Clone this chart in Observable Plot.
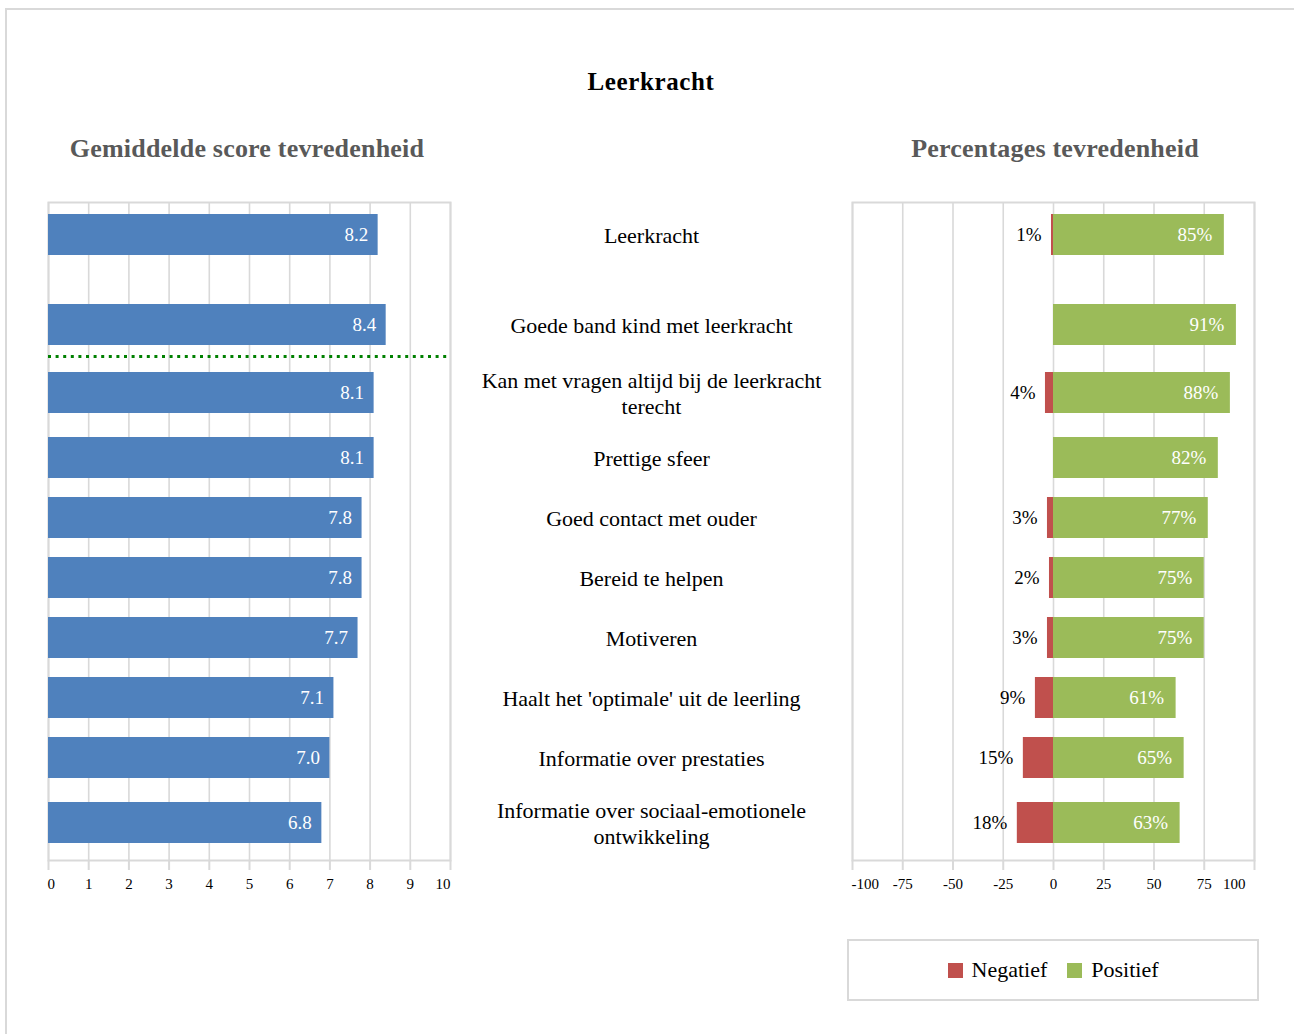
<!DOCTYPE html>
<html>
<head>
<meta charset="utf-8">
<script src="https://cdn.jsdelivr.net/npm/d3@7"></script>
<script src="https://cdn.jsdelivr.net/npm/@observablehq/plot@0.6"></script>
<style>
  html, body { margin: 0; padding: 0; background: #fff; }
  #page { position: relative; width: 1294px; height: 1034px; overflow: hidden; background: #fff;
          font-family: 'Liberation Serif', 'Times New Roman', serif; }
  .abs { position: absolute; }
  #outer { left: 5px; top: 8px; width: 1310px; height: 1050px; border: 2px solid #d9d9d9; box-sizing: border-box; }
  #title { left: 451px; width: 400px; top: 69px; text-align: center; font-size: 25px; font-weight: bold;
           line-height: 1; letter-spacing: 0.6px; color: #000; }
  .sub { width: 500px; top: 136px; text-align: center; font-size: 26px; font-weight: bold; line-height: 1;
         letter-spacing: 0.2px; color: #595959; }
  #legend { left: 847px; top: 939px; width: 412px; height: 62px; border: 2px solid #d9d9d9; box-sizing: border-box;
            display: flex; align-items: center; justify-content: center; font-size: 22px; color: #000; }
  .sw { display: inline-block; width: 15px; height: 15px; margin-right: 9px; }
  .item { display: flex; align-items: center; margin: 0 10px; }
</style>
</head>
<body>
<div id="page">
  <div id="outer" class="abs"></div>
  <div id="title" class="abs">Leerkracht</div>
  <div id="subL" class="abs sub" style="left:-3px">Gemiddelde score tevredenheid</div>
  <div id="subR" class="abs sub" style="left:805px">Percentages tevredenheid</div>
  <div id="left" class="abs" style="left:0px; top:180px;"></div>
  <div id="mid" class="abs" style="left:450px; top:180px;"></div>
  <div id="right" class="abs" style="left:804px; top:180px;"></div>
  <div id="legend" class="abs"></div>
</div>
<script>
// ---------- DATA ----------
const labels = [
  "Leerkracht",
  "Goede band kind met leerkracht",
  "Kan met vragen altijd bij de leerkracht\nterecht",
  "Prettige sfeer",
  "Goed contact met ouder",
  "Bereid te helpen",
  "Motiveren",
  "Haalt het 'optimale' uit de leerling",
  "Informatie over prestaties",
  "Informatie over sociaal-emotionele\nontwikkeling"
];
const scores    = [8.2, 8.4, 8.1, 8.1, 7.8, 7.8, 7.7, 7.1, 7.0, 6.8];
const negatief  = [1, 0, 4, 0, 3, 2, 3, 9, 15, 18];
const positief  = [85, 91, 88, 82, 77, 75, 75, 61, 65, 63];
const scoreTicks = [0, 1, 2, 3, 4, 5, 6, 7, 8, 9, 10];
const pctTicks   = [-100, -75, -50, -25, 0, 25, 50, 75, 100];
const legendItems = ["Negatief", "Positief"];

// ---------- STYLE / LAYOUT ----------
const FONT = "'Liberation Serif', 'Times New Roman', serif";
const BLUE = "#4F81BD", RED = "#C0504D", GREEN = "#9BBB59", GRID = "#d9d9d9";
const PLOT_H = 658, MT = 22, MB = 40, H = MT + PLOT_H + MB;
const ROW_H = 60, LINE_EXTRA = 10, GROUP_GAP = 30, SEP_GAP = 3, TOP_PAD = 32.5, HALF_BAR = 20.5;

// row centres derived from label line counts (layout rule, not data)
const rowH = labels.map(l => ROW_H + LINE_EXTRA * (l.split("\n").length - 1));
const centers = [];
let acc = TOP_PAD;
labels.forEach((_, i) => {
  if (i > 0) acc += (rowH[i - 1] + rowH[i]) / 2 + (i === 1 ? GROUP_GAP : 0) + (i === 2 ? SEP_GAP : 0);
  centers.push(acc);
});
const sepY = centers[1] + rowH[1] / 2 + SEP_GAP / 2;

const rows = labels.map((label, i) => ({
  label, score: scores[i], neg: negatief[i], pos: positief[i], c: centers[i]
}));

const yScale = {domain: [0, PLOT_H], range: [MT, MT + PLOT_H], axis: null};
const svgStyle = {fontFamily: FONT, fontSize: "15px", color: "#000", background: "transparent", overflow: "visible"};

function axes(ticks, lastDx) {
  const first = ticks[0], last = ticks[ticks.length - 1];
  const fmt = d => String(d);
  return [
    Plot.gridX({ticks, stroke: GRID, strokeOpacity: 1, strokeWidth: 1.6}),
    Plot.frame({stroke: GRID, strokeWidth: 2}),
    Plot.axisX({ticks, tickSize: 10, stroke: GRID, strokeOpacity: 1, strokeWidth: 2, tickFormat: () => "", label: null}),
    Plot.axisX({ticks: [first], tickSize: 0, tickPadding: 18, tickFormat: fmt, textAnchor: "start", dx: -1, label: null, fontSize: 15}),
    Plot.axisX({ticks: ticks.slice(1, -1), tickSize: 0, tickPadding: 18, tickFormat: fmt, label: null, fontSize: 15}),
    Plot.axisX({ticks: [last], tickSize: 0, tickPadding: 18, tickFormat: fmt, textAnchor: "end", dx: lastDx, label: null, fontSize: 15})
  ];
}

// ---------- LEFT: average score ----------
const left = Plot.plot({
  width: 470, height: H,
  marginLeft: 48, marginRight: 20, marginTop: MT, marginBottom: MB,
  style: svgStyle,
  x: {domain: [0, 10], axis: null},
  y: yScale,
  marks: [
    ...axes(scoreTicks, 0),
    Plot.rect(rows, {x1: 0, x2: "score", y1: d => d.c - HALF_BAR, y2: d => d.c + HALF_BAR, fill: BLUE}),
    Plot.text(rows, {x: "score", y: "c", text: d => d.score.toFixed(1), textAnchor: "end", dx: -10,
                     fill: "white", fontSize: 19, fontFamily: FONT}),
    Plot.ruleY([sepY], {stroke: "#008000", strokeWidth: 3, strokeDasharray: "3,4.6"})
  ]
});
document.getElementById("left").appendChild(left);

// ---------- MIDDLE: labels ----------
const mid = Plot.plot({
  width: 402, height: H,
  marginLeft: 0, marginRight: 0, marginTop: MT, marginBottom: MB,
  style: svgStyle,
  y: yScale,
  marks: [
    Plot.text(rows, {y: "c", text: "label", frameAnchor: "middle", fontSize: 22, lineHeight: 1.18,
                     fill: "#000", fontFamily: FONT})
  ]
});
document.getElementById("mid").appendChild(mid);

// ---------- RIGHT: percentages ----------
const right = Plot.plot({
  width: 470, height: H,
  marginLeft: 48, marginRight: 20, marginTop: MT, marginBottom: MB,
  style: svgStyle,
  x: {domain: [-100, 100], axis: null},
  y: yScale,
  marks: [
    ...axes(pctTicks, -9),
    Plot.rect(rows.filter(d => d.neg > 0), {x1: d => -d.neg, x2: 0, y1: d => d.c - HALF_BAR, y2: d => d.c + HALF_BAR, fill: RED}),
    Plot.rect(rows, {x1: 0, x2: "pos", y1: d => d.c - HALF_BAR, y2: d => d.c + HALF_BAR, fill: GREEN}),
    Plot.text(rows.filter(d => d.neg > 0), {x: d => -d.neg, y: "c", text: d => d.neg + "%", textAnchor: "end", dx: -10,
                     fill: "#000", fontSize: 19, fontFamily: FONT}),
    Plot.text(rows, {x: "pos", y: "c", text: d => d.pos + "%", textAnchor: "end", dx: -12,
                     fill: "white", fontSize: 19, fontFamily: FONT})
  ]
});
document.getElementById("right").appendChild(right);

// ---------- LEGEND ----------
const legendColors = [RED, GREEN];
const lg = document.getElementById("legend");
legendItems.forEach((name, i) => {
  const it = document.createElement("span");
  it.className = "item";
  const sw = document.createElement("span");
  sw.className = "sw";
  sw.style.background = legendColors[i];
  it.appendChild(sw);
  it.appendChild(document.createTextNode(name));
  lg.appendChild(it);
});
</script>
</body>
</html>
